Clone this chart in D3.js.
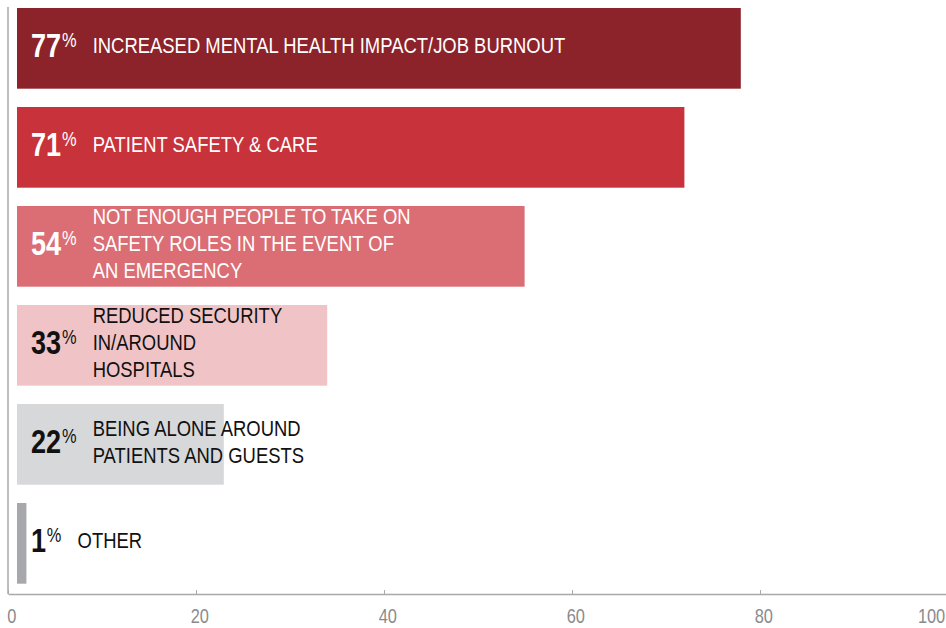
<!DOCTYPE html>
<html>
<head>
<meta charset="utf-8">
<script src="https://cdn.jsdelivr.net/npm/d3@7"></script>
<style>
  body { margin: 0; background: #fff; }
  svg { display: block; }
  text { font-family: "Liberation Sans", Arial, sans-serif; }
</style>
</head>
<body>
<svg id="chart" width="946" height="628"></svg>
<script>
// Survey responses: share of respondents naming each concern
const categories = [
  "INCREASED MENTAL HEALTH IMPACT/JOB BURNOUT",
  "PATIENT SAFETY & CARE",
  "NOT ENOUGH PEOPLE TO TAKE ON SAFETY ROLES IN THE EVENT OF AN EMERGENCY",
  "REDUCED SECURITY IN/AROUND HOSPITALS",
  "BEING ALONE AROUND PATIENTS AND GUESTS",
  "OTHER"
];
// Line breaks used when printing each category inside its bar
const categoryLines = [
  ["INCREASED MENTAL HEALTH IMPACT/JOB BURNOUT"],
  ["PATIENT SAFETY & CARE"],
  ["NOT ENOUGH PEOPLE TO TAKE ON", "SAFETY ROLES IN THE EVENT OF", "AN EMERGENCY"],
  ["REDUCED SECURITY", "IN/AROUND", "HOSPITALS"],
  ["BEING ALONE AROUND", "PATIENTS AND GUESTS"],
  ["OTHER"]
];
const values = [77, 71, 54, 33, 22, 1];
const xTicks = [0, 20, 40, 60, 80, 100];

const barColors = ["#8c232b", "#c8323a", "#db6e74", "#f0c4c6", "#d7d8da", "#a7a8ab"];
const textColors = ["#ffffff", "#ffffff", "#ffffff", "#111111", "#111111", "#111111"];

const svg = d3.select("#chart");
const axisY = 594;
const barOffset = 9;    // gap between the axis line and the start of each bar
const narrow = 0.82;    // horizontal squeeze giving the condensed type look

const x = d3.scaleLinear().domain([0, 100]).range([8, 948]);
const y = d3.scaleBand()
  .domain(d3.range(categories.length))
  .range([8, 583.7])
  .paddingInner(0.185)
  .paddingOuter(0);

// Left axis line
svg.append("line")
  .attr("x1", x(0)).attr("x2", x(0))
  .attr("y1", 7).attr("y2", axisY)
  .attr("stroke", "#a9a9ab").attr("stroke-width", 1.5);

// Bars
svg.append("g").selectAll("rect")
  .data(values)
  .join("rect")
  .attr("x", x(0) + barOffset)
  .attr("y", (d, i) => y(i))
  .attr("width", d => x(d) - x(0))
  .attr("height", y.bandwidth())
  .attr("fill", (d, i) => barColors[i]);

// Labels inside the bars
const labels = svg.append("g").selectAll("g")
  .data(values)
  .join("g")
  .attr("transform", (d, i) => `translate(0,${y(i) + y.bandwidth() / 2})`);

labels.each(function (d, i) {
  const g = d3.select(this);
  const pctG = g.append("g").attr("transform", `translate(31,9) scale(${narrow},1)`);
  const pct = pctG.append("text")
    .attr("fill", textColors[i]);
  pct.append("tspan")
    .attr("font-size", 33)
    .attr("font-weight", "bold")
    .text(d);
  pct.append("tspan")
    .attr("font-size", 20)
    .attr("dx", 1)
    .attr("dy", -10)
    .text("%");

  const pctEnd = 31 + narrow * pct.node().getComputedTextLength();
  const lines = categoryLines[i];
  const lineH = 27;
  const tG = g.append("g").attr("transform", `translate(${pctEnd + 17},0) scale(${narrow},1)`);
  const t = tG.append("text")
    .attr("font-size", 22.5)
    .attr("fill", textColors[i]);
  lines.forEach((ln, k) => {
    t.append("tspan")
      .attr("x", 0)
      .attr("y", 5 + (k - (lines.length - 1) / 2) * lineH)
      .text(ln);
  });
});

// Bottom axis
const axis = d3.axisBottom(x)
  .tickValues(xTicks)
  .tickSizeInner(-4)
  .tickSizeOuter(0)
  .tickPadding(15)
  .tickFormat(d3.format("d"));

const gx = svg.append("g")
  .attr("transform", `translate(0,${axisY})`)
  .call(axis);
gx.select(".domain").attr("stroke", "#a9a9ab").attr("stroke-width", 1.5);
gx.selectAll(".tick line").attr("stroke", "#a9a9ab");
gx.selectAll(".tick text")
  .attr("fill", "#8a8a8d")
  .attr("font-size", 20)
  .attr("font-family", "\"Liberation Sans\", Arial, sans-serif")
  .attr("transform", `scale(${narrow},1)`)
  .attr("dx", 4);
// keep the last tick label inside the frame
gx.selectAll(".tick text").filter(d => d === 100)
  .attr("text-anchor", "end")
  .attr("x", 0).attr("dx", -4);
</script>
</body>
</html>
